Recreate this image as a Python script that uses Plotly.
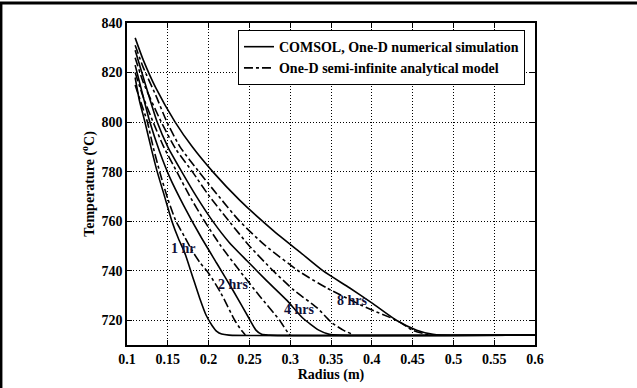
import plotly.graph_objects as go

# COMSOL (solid) curves
r_c1 = [0.11, 0.115, 0.122, 0.13, 0.137, 0.146, 0.155, 0.163, 0.171, 0.18, 0.189, 0.197, 0.204, 0.21, 0.216, 0.225, 0.6]
T_c1 = [818, 809, 800, 789, 780, 770, 760, 753, 747, 738, 729, 722, 718, 715.5, 714.4, 714, 714]
r_c2 = [0.11, 0.12, 0.128, 0.14, 0.152, 0.17, 0.19, 0.21, 0.23, 0.25, 0.258, 0.265, 0.275, 0.6]
T_c2 = [823, 810, 800, 788, 778, 766, 754, 743, 732, 720.5, 716, 714.3, 714, 714]
r_c4 = [0.11, 0.12, 0.137, 0.15, 0.167, 0.185, 0.205, 0.225, 0.247, 0.271, 0.296, 0.315, 0.335, 0.348, 0.36, 0.6]
T_c4 = [829, 818, 800, 790, 780, 770, 760, 751.5, 744, 736, 728, 721, 716, 714.3, 714, 714]
r_c8 = [0.11, 0.12, 0.135, 0.159, 0.18, 0.205, 0.238, 0.28, 0.312, 0.34, 0.373, 0.40, 0.43, 0.455, 0.475, 0.485, 0.6]
T_c8 = [834, 825, 814, 800, 790, 780, 768.5, 756, 747.5, 740, 733, 727, 720, 716, 714.3, 714, 714]

# Analytical (dash-dot) curves
r_a1 = [0.11, 0.117, 0.125, 0.132, 0.14, 0.15, 0.16, 0.17, 0.18, 0.19, 0.2, 0.215, 0.232, 0.24, 0.245]
T_a1 = [815, 808, 800, 790, 780, 769, 760, 754, 748, 743, 739, 731, 720, 716, 714]
r_a2 = [0.11, 0.12, 0.132, 0.145, 0.161, 0.177, 0.195, 0.215, 0.238, 0.262, 0.287, 0.295, 0.30]
T_a2 = [820, 810, 800, 790, 780, 770, 760, 750, 740, 730, 720, 716, 714]
r_a4 = [0.11, 0.12, 0.142, 0.16, 0.18, 0.2, 0.225, 0.25, 0.279, 0.305, 0.333, 0.351, 0.365, 0.375]
T_a4 = [826, 816, 800, 789, 780, 770.5, 760, 750, 740, 732, 725, 719, 716, 714.5]
r_a8 = [0.11, 0.12, 0.135, 0.149, 0.165, 0.188, 0.21, 0.238, 0.27, 0.312, 0.345, 0.394, 0.43, 0.45, 0.47]
T_a8 = [831, 822, 811, 800, 790, 780, 771, 760, 750, 739.5, 733, 725, 720, 716, 714]

labels = ["1 hr", "2 hrs", "4 hrs", "8 hrs"]
label_r = [0.169, 0.230, 0.311, 0.376]
label_T = [749, 734.5, 724.3, 728]

x_ticks = [0.1, 0.15, 0.2, 0.25, 0.3, 0.35, 0.4, 0.45, 0.5, 0.55, 0.6]
y_ticks = [720, 740, 760, 780, 800, 820, 840]

FONT = "Liberation Serif"

fig = go.Figure()
solid = [(r_c1, T_c1), (r_c2, T_c2), (r_c4, T_c4), (r_c8, T_c8)]
dash = [(r_a1, T_a1), (r_a2, T_a2), (r_a4, T_a4), (r_a8, T_a8)]
for i, (r, T) in enumerate(solid):
    fig.add_trace(go.Scatter(x=r, y=T, mode="lines", line=dict(color="black", width=1.6, shape="spline", smoothing=0.6),
                             name="<b>COMSOL, One-D numerical simulation</b>", showlegend=(i == 0), legendrank=1))
for i, (r, T) in enumerate(dash):
    fig.add_trace(go.Scatter(x=r, y=T, mode="lines", line=dict(color="black", width=1.6, dash="dashdot", shape="spline", smoothing=0.6),
                             name="<b>One-D semi-infinite analytical model</b>", showlegend=(i == 0), legendrank=2))

for t, x, y in zip(labels, label_r, label_T):
    fig.add_annotation(x=x, y=y, text="<b>%s</b>" % t, showarrow=False,
                       font=dict(family=FONT, size=14, color="#10103a"), bgcolor="rgba(0,0,0,0)")

axis_common = dict(showgrid=True, gridcolor="black", griddash="1px,2px", gridwidth=1,
                   showline=True, linecolor="black", linewidth=1.5, mirror="ticks",
                   ticks="inside", ticklen=5, tickcolor="black", zeroline=False,
                   tickfont=dict(family=FONT, size=14, color="black"))

fig.update_xaxes(range=[0.1, 0.6], tickvals=x_ticks, ticktext=[("<b>%g</b>" % v) for v in x_ticks],
                 title=dict(text="<b>Radius (m)</b>", font=dict(family=FONT, size=14, color="black"), standoff=0),
                 **axis_common)
fig.update_yaxes(range=[710, 840], tickvals=y_ticks, ticktext=[("<b>%d</b>" % v) for v in y_ticks],
                 title=dict(text="<b>Temperature (<sup>o</sup>C)</b>", font=dict(family=FONT, size=14, color="black"), standoff=4),
                 **axis_common)

fig.update_layout(
    width=637, height=388,
    margin=dict(l=127, r=102, t=23, b=43),
    paper_bgcolor="white", plot_bgcolor="white",
    showlegend=True,
    legend=dict(x=0.272, y=0.978, xanchor="left", yanchor="top",
                bgcolor="white", bordercolor="black", borderwidth=1,
                font=dict(family=FONT, size=14, color="black"),
                tracegroupgap=0, itemwidth=30),
    shapes=[
        dict(type="line", xref="paper", yref="paper", x0=-0.32, x1=1.26, y0=1.062, y1=1.062,
             line=dict(color="black", width=3)),
        dict(type="line", xref="paper", yref="paper", x0=-0.309, x1=-0.309, y0=-0.14, y1=1.065,
             line=dict(color="black", width=3)),
    ],
)

fig.write_html("out.html")
